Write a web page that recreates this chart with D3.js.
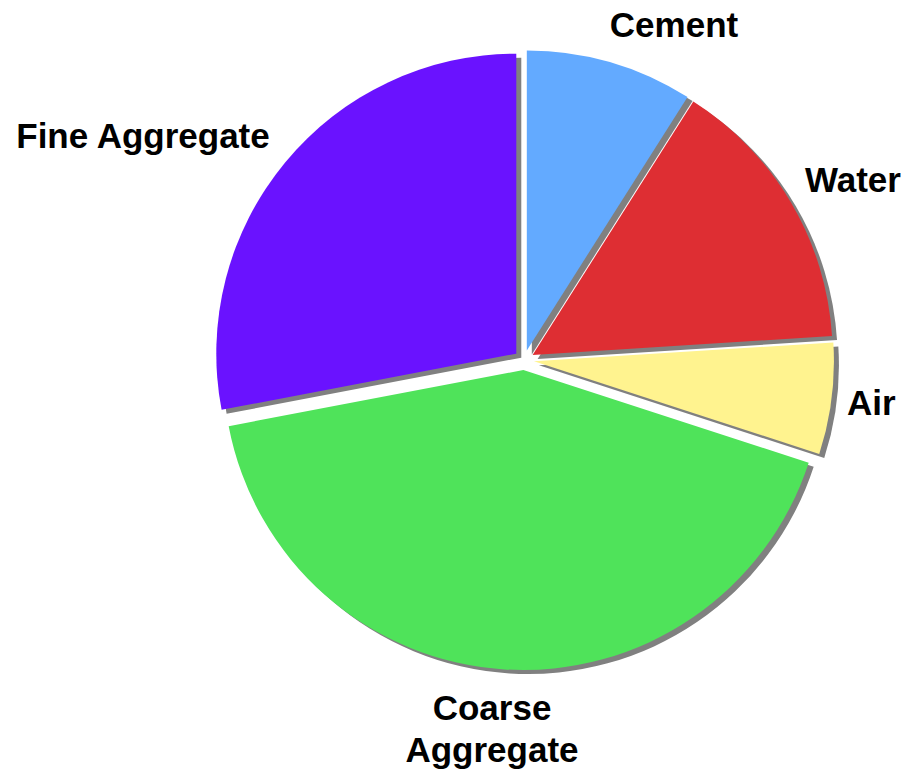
<!DOCTYPE html>
<html>
<head>
<meta charset="utf-8">
<script src="https://cdn.jsdelivr.net/npm/d3@7"></script>
<style>
  html, body { margin: 0; padding: 0; background: #ffffff; }
  svg { display: block; }
  text { font-family: "Liberation Sans", Arial, sans-serif; font-weight: bold; fill: #000; }
</style>
</head>
<body>
<svg id="chart" width="910" height="771"></svg>
<script>
// Concrete mix composition (percent by volume)
const categories = ["Cement", "Water", "Air", "Coarse Aggregate", "Fine Aggregate"];
const values = [9, 15, 6, 42, 28];
const colors = ["#63aaff", "#de2e33", "#fff38f", "#4fe35a", "#6a12ff"];
const labelLines = [["Cement"], ["Water"], ["Air"], ["Coarse", "Aggregate"], ["Fine Aggregate"]];

// Layout
const cx = 524, cy = 360, radius = 300, explode = 10;
const shadowDx = 5, shadowDy = 4;
const fontSize = 35;
// Label anchor offsets from the pie centre, in pixels, and text alignment
const labelLayout = [
  { dx: 150, dy: -323, anchor: "middle" },
  { dx: 329, dy: -168, anchor: "middle" },
  { dx: 323, dy: 55, anchor: "start" },
  { dx: -32, dy: 360, anchor: "middle" },
  { dx: -381, dy: -212, anchor: "middle" }
];

const data = categories.map((c, i) => ({ name: c, value: values[i], color: colors[i], lines: labelLines[i], layout: labelLayout[i] }));

const pie = d3.pie().value(d => d.value).sort(null);
const arc = d3.arc().innerRadius(0).outerRadius(radius);
const arcs = pie(data);

const svg = d3.select("#chart");
const g = svg.append("g").attr("transform", `translate(${cx},${cy})`);

// Each slice is pushed out along its bisector
function offset(d) {
  const a = (d.startAngle + d.endAngle) / 2;
  return [Math.sin(a) * explode, -Math.cos(a) * explode];
}

// Drop shadows underneath all slices
g.append("g").selectAll("path")
  .data(arcs)
  .join("path")
  .attr("d", arc)
  .attr("fill", "#808080")
  .attr("transform", d => {
    const [ox, oy] = offset(d);
    return `translate(${ox + shadowDx},${oy + shadowDy})`;
  });

// Slices
g.append("g").selectAll("path")
  .data(arcs)
  .join("path")
  .attr("d", arc)
  .attr("fill", d => d.data.color)
  .attr("transform", d => {
    const [ox, oy] = offset(d);
    return `translate(${ox},${oy})`;
  });

// Category labels
const labels = g.append("g").selectAll("text")
  .data(arcs)
  .join("text")
  .attr("font-size", fontSize)
  .attr("text-anchor", d => d.data.layout.anchor)
  .attr("x", d => d.data.layout.dx)
  .attr("y", d => d.data.layout.dy);

labels.selectAll("tspan")
  .data(d => d.data.lines.map((t, i) => ({ t, i, x: d.data.layout.dx })))
  .join("tspan")
  .attr("x", d => d.x)
  .attr("dy", d => d.i === 0 ? 0 : 42)
  .text(d => d.t);
</script>
</body>
</html>
